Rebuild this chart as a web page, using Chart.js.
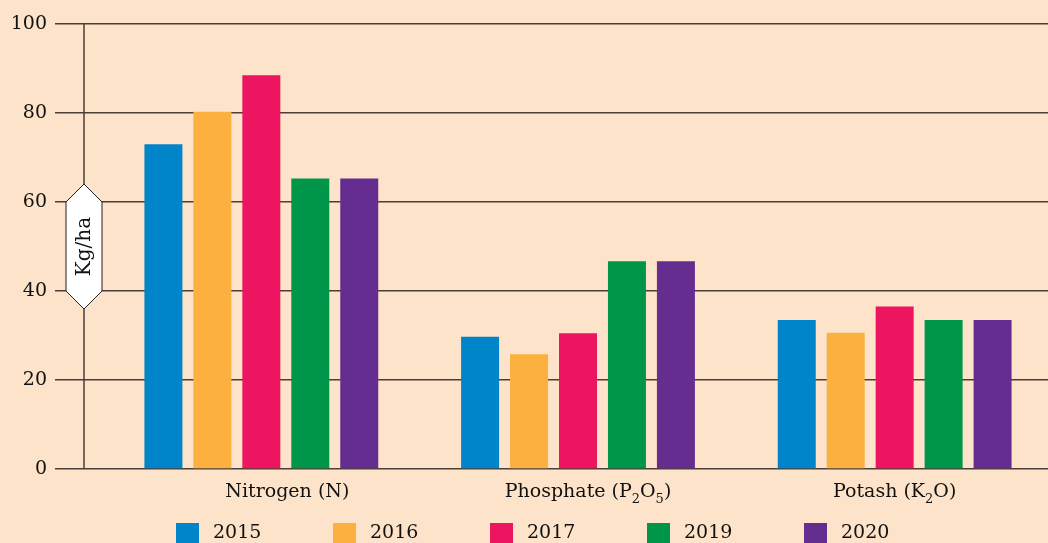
<!DOCTYPE html>
<html>
<head>
<meta charset="utf-8">
<script src="https://cdn.jsdelivr.net/npm/chart.js@4"></script>
<style>
  html, body { margin: 0; padding: 0; background: #fde3c9; overflow: hidden; }
  #wrap { width: 1048px; height: 543px; overflow: hidden; }
</style>
</head>
<body>
<div id="wrap"><canvas id="nutrients_chart" width="1053" height="543"></canvas></div>
<script>
var categories = ['Nitrogen (N)', 'Phosphate (P\u2082O\u2085)', 'Potash (K\u2082O)'];
var years = ['2015', '2016', '2017', '2019', '2020'];
var values2015 = [73, 29.7, 33.5];
var values2016 = [80.3, 25.8, 30.6];
var values2017 = [88.5, 30.5, 36.5];
var values2019 = [65.3, 46.7, 33.5];
var values2020 = [65.3, 46.7, 33.5];
var yTicks = [0, 20, 40, 60, 80, 100];
var colors = ['#0085ca', '#fbb040', '#ed1460', '#00964a', '#662d91'];

var font = "'DejaVu Serif', serif";
var lineColor = '#4a3f38';
var textColor = '#111';
var labelShift = [26, 10, 0]; // the printed category names sit a bit right of the bar groups
var axisGap = 19; // vertical axis line sits left of the plot area

var datasets = [];
[values2015, values2016, values2017, values2019, values2020].forEach(function (vals, i) {
  datasets.push({
    label: years[i],
    data: vals,
    backgroundColor: colors[i],
    borderWidth: 0
  });
});

// split "P₂O₅" into normal and subscript runs
function splitRuns(str) {
  var runs = [];
  for (var i = 0; i < str.length; i++) {
    var c = str.charCodeAt(i);
    var sub = c >= 0x2080 && c <= 0x2089;
    var ch = sub ? String(c - 0x2080) : str[i];
    if (runs.length && runs[runs.length - 1].sub === sub) runs[runs.length - 1].text += ch;
    else runs.push({ text: ch, sub: sub });
  }
  return runs;
}

var axisPlugin = {
  id: 'axisTag',
  beforeDatasetsDraw: function (chart) {
    var ctx = chart.ctx, y = chart.scales.y;
    var ax = chart.chartArea.left - axisGap;
    ctx.save();
    ctx.strokeStyle = lineColor;
    ctx.lineWidth = 1.5;
    ctx.beginPath();
    ctx.moveTo(ax, y.getPixelForValue(100));
    ctx.lineTo(ax, y.getPixelForValue(0));
    ctx.stroke();
    ctx.restore();
  },
  afterDraw: function (chart) {
    var ctx = chart.ctx, y = chart.scales.y, x = chart.scales.x;
    var ax = chart.chartArea.left - axisGap;
    var top = y.getPixelForValue(60), bot = y.getPixelForValue(40);
    var hw = 18;

    // hexagon tag with the unit
    ctx.save();
    ctx.beginPath();
    ctx.moveTo(ax, top - hw);
    ctx.lineTo(ax + hw, top);
    ctx.lineTo(ax + hw, bot);
    ctx.lineTo(ax, bot + hw);
    ctx.lineTo(ax - hw, bot);
    ctx.lineTo(ax - hw, top);
    ctx.closePath();
    ctx.fillStyle = '#ffffff';
    ctx.fill();
    ctx.strokeStyle = '#222';
    ctx.lineWidth = 1;
    ctx.stroke();
    ctx.translate(ax, (top + bot) / 2);
    ctx.rotate(-Math.PI / 2);
    ctx.fillStyle = textColor;
    ctx.font = '20px ' + font;
    ctx.textAlign = 'center';
    ctx.textBaseline = 'middle';
    ctx.fillText('Kg/ha', 0, 1);
    ctx.restore();

    // category labels, with real subscripts
    ctx.save();
    ctx.fillStyle = textColor;
    ctx.textBaseline = 'alphabetic';
    ctx.textAlign = 'left';
    var base = chart.chartArea.bottom + 28;
    categories.forEach(function (label, i) {
      var runs = splitRuns(label);
      var total = 0;
      runs.forEach(function (r) {
        ctx.font = (r.sub ? '13px ' : '19px ') + font;
        r.w = ctx.measureText(r.text).width;
        total += r.w;
      });
      var cx = x.getPixelForValue(i) + labelShift[i];
      var px = cx - total / 2;
      runs.forEach(function (r) {
        ctx.font = (r.sub ? '13px ' : '19px ') + font;
        ctx.fillText(r.text, px, r.sub ? base + 6 : base);
        px += r.w;
      });
    });
    ctx.restore();

    // legend row
    var startX = 176, pitch = 157, ly = 523, box = 23;
    ctx.save();
    ctx.font = '19px ' + font;
    ctx.textBaseline = 'middle';
    ctx.textAlign = 'left';
    chart.data.datasets.forEach(function (ds, i) {
      var lx = startX + i * pitch;
      ctx.fillStyle = ds.backgroundColor;
      ctx.fillRect(lx, ly, box, box);
      ctx.fillStyle = textColor;
      ctx.fillText(ds.label, lx + box + 14, ly + 10);
    });
    ctx.restore();
  }
};

var ctx = document.getElementById('nutrients_chart').getContext('2d');
var chartInstance = new Chart(ctx, {
  type: 'bar',
  data: {
    labels: categories,
    datasets: datasets
  },
  options: {
    responsive: false,
    animation: false,
    devicePixelRatio: 1,
    categoryPercentage: 0.773,
    barPercentage: 0.776,
    layout: { padding: { left: 10, top: 24, right: 0, bottom: 0 } },
    plugins: {
      legend: { display: false },
      tooltip: { enabled: false }
    },
    scales: {
      x: {
        grid: { display: false, drawTicks: false },
        border: { display: false },
        ticks: { display: false },
        afterFit: function (s) { s.height = 74; }
      },
      y: {
        min: 0,
        max: 100,
        afterBuildTicks: function (s) {
          s.ticks = yTicks.map(function (v) { return { value: v }; });
        },
        grid: { color: lineColor, lineWidth: 1.5, tickLength: 48, tickColor: lineColor },
        border: { display: false },
        ticks: { color: textColor, font: { family: font, size: 19 }, padding: 8 },
        afterFit: function (s) { s.width = 93; }
      }
    }
  },
  plugins: [axisPlugin]
});
</script>
</body>
</html>
